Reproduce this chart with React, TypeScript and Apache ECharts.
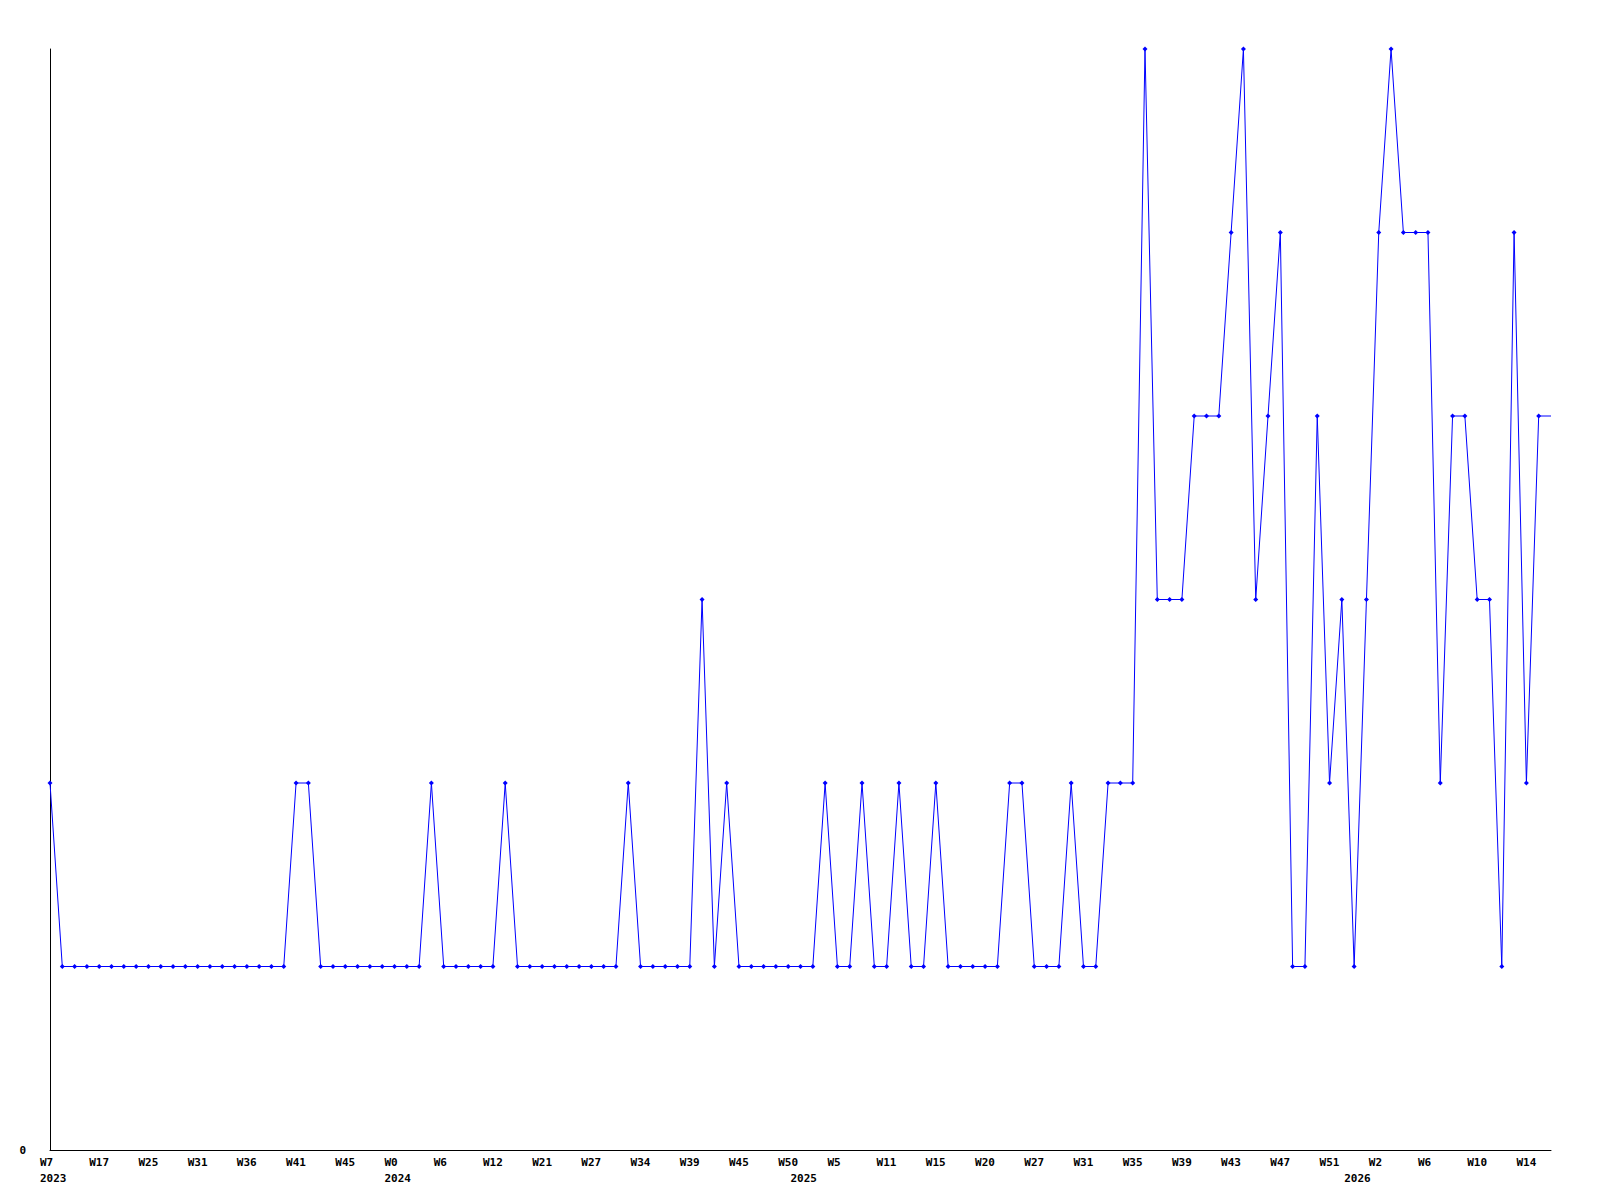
import React, { useEffect, useRef } from "react";
import * as echarts from "echarts";

// weekly values, one per point
const values: number[] = [
  2, 1, 1, 1, 1, 1, 1, 1, 1, 1, 1, 1, 1, 1, 1, 1, 1, 1, 1, 1,
  2, 2, 1, 1, 1, 1, 1, 1, 1, 1, 1, 2, 1, 1, 1, 1, 1, 2, 1, 1,
  1, 1, 1, 1, 1, 1, 1, 2, 1, 1, 1, 1, 1, 3, 1, 2, 1, 1, 1, 1,
  1, 1, 1, 2, 1, 1, 2, 1, 1, 2, 1, 1, 2, 1, 1, 1, 1, 1, 2, 2,
  1, 1, 1, 2, 1, 1, 2, 2, 2, 6, 3, 3, 3, 4, 4, 4, 5, 6, 3, 4,
  5, 1, 1, 4, 2, 3, 1, 3, 5, 6, 5, 5, 5, 2, 4, 4, 3, 3, 1, 5,
  2, 4, 4,
];

// tick labels shown on every 4th point
const weekLabels: string[] = [
  "W7", "W17", "W25", "W31", "W36", "W41", "W45", "W0", "W6", "W12",
  "W21", "W27", "W34", "W39", "W45", "W50", "W5", "W11", "W15", "W20",
  "W27", "W31", "W35", "W39", "W43", "W47", "W51", "W2", "W6", "W10", "W14",
];
const weekLabelStep = 4;

// year labels and the point index where each year starts
const yearLabels: string[] = ["2023", "2024", "2025", "2026"];
const yearStarts: number[] = [0, 28, 61, 106];

const FONT = "DejaVu Sans Mono";

export default function App() {
  const ref = useRef<HTMLDivElement>(null);

  useEffect(() => {
    if (!ref.current) return;
    const chart = echarts.init(ref.current, undefined, { renderer: "svg" });

    const categories = values.map((_, i) => String(i));
    const weekAt = (i: number) =>
      i % weekLabelStep === 0 ? weekLabels[i / weekLabelStep] ?? "" : "";
    const yearAt = (i: number) => {
      const k = yearStarts.indexOf(i);
      return k >= 0 ? yearLabels[k] : "";
    };

    const richA = {
      a: {
        width: 20,
        align: "left",
        fontFamily: FONT,
        fontWeight: "bold",
        fontSize: 11,
        color: "#000",
      },
    };

    const seriesData = values.map((v, i) =>
      i === values.length - 1 ? { value: v, symbol: "none" } : v
    );

    chart.setOption({
      animation: false,
      backgroundColor: "#fff",
      grid: { left: 50, right: 49, top: 49, bottom: 50, containLabel: false },
      xAxis: [
        {
          type: "category",
          data: categories,
          boundaryGap: false,
          axisLine: { show: true, lineStyle: { color: "#000", width: 1 } },
          axisTick: { show: false },
          splitLine: { show: false },
          axisLabel: {
            interval: (i: number) => i % weekLabelStep === 0,
            margin: 7,
            hideOverlap: false,
            formatter: (_v: string, i: number) => `{a|${weekAt(i)}}`,
            rich: richA,
          },
        },
        {
          type: "category",
          data: categories,
          boundaryGap: false,
          position: "bottom",
          offset: 16,
          axisLine: { show: false },
          axisTick: { show: false },
          splitLine: { show: false },
          axisLabel: {
            interval: (i: number) => yearStarts.indexOf(i) >= 0,
            margin: 7,
            hideOverlap: false,
            formatter: (_v: string, i: number) => `{a|${yearAt(i)}}`,
            rich: richA,
          },
        },
      ],
      yAxis: {
        type: "value",
        min: 0,
        max: 6,
        interval: 1,
        axisLine: { show: true, lineStyle: { color: "#000", width: 1 } },
        axisTick: { show: false },
        splitLine: { show: false },
        axisLabel: {
          margin: 24,
          fontFamily: FONT,
          fontWeight: "bold",
          fontSize: 11,
          color: "#000",
          verticalAlign: "middle",
          formatter: (v: number) => (v === 0 ? "0" : ""),
        },
      },
      series: [
        {
          type: "line",
          xAxisIndex: 0,
          data: seriesData,
          symbol: "diamond",
          symbolSize: 5,
          showSymbol: true,
          lineStyle: { color: "#0000ff", width: 1 },
          itemStyle: { color: "#0000ff" },
        },
      ],
    });

    return () => chart.dispose();
  }, []);

  return (
    <div
      ref={ref}
      style={{ position: "absolute", left: 0, top: 0, width: 1600, height: 1200 }}
    />
  );
}
